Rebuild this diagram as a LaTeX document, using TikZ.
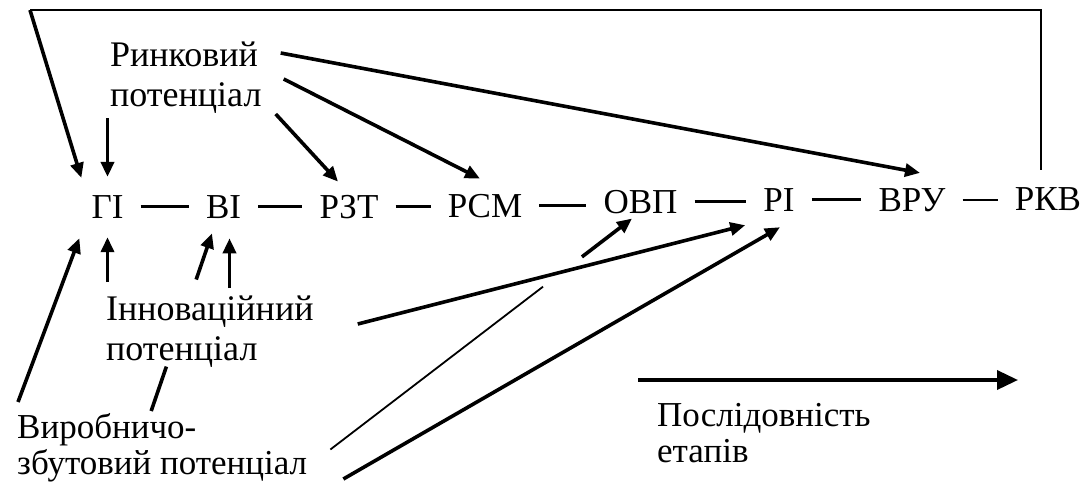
\documentclass[tikz,border=0pt]{standalone}
\usepackage{fontspec}
\setmainfont{Liberation Serif}
\usetikzlibrary{arrows.meta,calc}
\definecolor{ink}{HTML}{000000}

\begin{document}
\begin{tikzpicture}[x=1pt,y=-1pt,
  stage/.style={anchor=base,inner sep=0pt,text=ink,font=\fontsize{35}{40}\selectfont},
  note/.style={anchor=north west,inner sep=0pt,align=left,text=ink,font=\fontsize{36}{40}\selectfont},
  link/.style={ink,line width=2.4pt},
  faintline/.style={ink,line width=1.8pt},
  stub/.style={ink,line width=3.6pt},
  push/.style={ink,line width=3.6pt,-{Triangle[length=15pt,width=13pt]}},
  bigpush/.style={ink,line width=3.6pt,-{Triangle[length=21pt,width=19pt]}}]

  \useasboundingbox (0,0) rectangle (1088,483);

  % ---------------------------------------------------------------- STAGES
  \node[stage] (gi)  at (107.5,218) {ГІ};
  \node[stage] (vi)  at (223.5,218) {ВІ};
  \node[stage] (rzt) at (349,218)   {РЗТ};
  \node[stage] (rsm) at (485,217)   {РСМ};
  \node[stage] (ovp) at (640.5,213) {ОВП};
  \node[stage] (ri)  at (779,211)   {РІ};
  \node[stage] (vru) at (912,211)   {ВРУ};
  \node[stage] (rkv) at (1048,210)  {РКВ};

  \foreach \a/\b in {gi/vi,vi/rzt,rzt/rsm,rsm/ovp,ovp/ri,ri/vru,vru/rkv} {
    \draw[link,shorten <=17pt,shorten >=17pt] (\a.east) -- (\a.east -| \b.west);
  }

  % ---------------------------------------------------------------- POTENTIALS
  \node[note] (rynok) at (110,42)  {Ринковий\\потенціал};
  \node[note] (innov) at (106,296) {Інноваційний\\потенціал};
  \node[note,font=\fontsize{35}{36}\selectfont] (vyrob) at (17,413)
    {Виробничо-\\збутовий потенціал};

  % ---------------------------------------------------------------- FEEDBACK LOOP
  \coordinate (loop) at (30,10);
  \draw[link] ($(rkv.north)+(-7,-17)$) |- (loop);
  \draw[push] (loop) -- ($(gi.north west)+(-10,-17)$);

  % ---------------------------------------------------------------- MARKET
  \draw[push] ($(gi.north |- rynok.south)+(0,4)$) -- ($(gi.north)+(0,-18)$);
  \draw[push] ($(rynok.south east)+(14,0)$) -- ($(rzt.north)+(-11,-13)$);
  \draw[push] ($(rynok.east)+(22,1)$) -- ($(rsm.north)+(-5,-15)$);
  \draw[push] ($(rynok.north east)+(19,11)$) -- ($(vru.north)+(8,-15)$);

  % ---------------------------------------------------------------- INNOVATION
  \draw[push] ($(gi.south |- innov.north)+(0,-14)$) -- ($(gi.south)+(0,19)$);
  \draw[push] ($(vi.south |- innov.north)+(6,-8)$) -- ($(vi.south)+(6,20)$);
  \draw[push] ($(innov.east)+(44,-8)$) -- ($(ri.south west)+(-18,14)$);

  % ---------------------------------------------------------------- PRODUCTION
  \draw[push] ($(vyrob.north west)+(1,-11)$) -- ($(gi.south west)+(-12,20)$);
  \coordinate (vv0) at ($(vyrob.north)+(-11,-2)$);
  \coordinate (vv1) at ($(vi.south)+(-11.5,15)$);
  \draw[stub] (vv0) -- ($(vv0)!0.25!(vv1)$);
  \draw[push] ($(vv0)!0.74!(vv1)$) -- (vv1);
  \coordinate (vo0) at ($(vyrob.east)+(23,2)$);
  \coordinate (vo1) at ($(ovp.south)+(-8.5,5)$);
  \draw[faintline] (vo0) -- ($(vo0)!0.705!(vo1)$);
  \draw[push] ($(vo0)!0.834!(vo1)$) -- (vo1);
  \draw[push] ($(vyrob.south east)+(36,-3)$) -- ($(ri.south)+(1,16)$);

  % ---------------------------------------------------------------- LEGEND
  \node[note,font=\fontsize{35}{36}\selectfont] (posl) at (657,403)
    {Послідовність\\етапів};
  \draw[bigpush] ($(posl.north west)+(-19,-23)$) -- +(380,0);

\end{tikzpicture}
\end{document}
